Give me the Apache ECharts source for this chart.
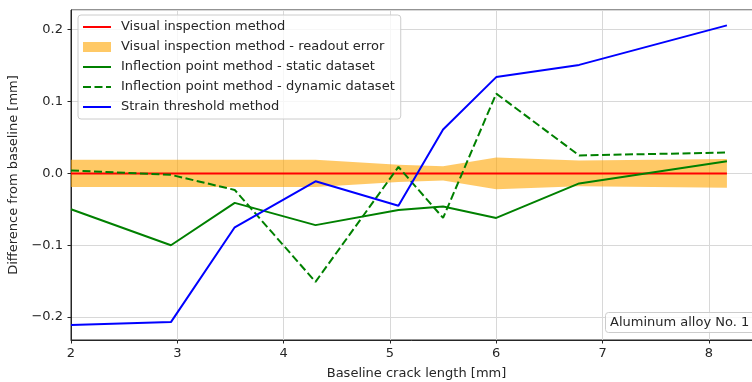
<!DOCTYPE html>
<html>
<head>
<meta charset="utf-8">
<script src="https://cdn.jsdelivr.net/npm/echarts@6/dist/echarts.min.js"></script>
<style>
html,body{margin:0;padding:0;background:#fff}
#chart{width:752px;height:382px}
</style>
</head>
<body>
<div id="chart"></div>
<script>
// baseline crack length [mm]
var crackLength = [2.00, 2.94, 3.54, 4.30, 5.08, 5.50, 6.00, 6.78, 8.17];
// differences from baseline [mm]
var visualDiff = [0, 0, 0, 0, 0, 0, 0, 0, 0];
var readoutError = [0.019, 0.019, 0.019, 0.019, 0.012, 0.010, 0.022, 0.018, 0.020];
var staticDiff = [-0.050, -0.100, -0.041, -0.072, -0.051, -0.046, -0.062, -0.014, 0.017];
var dynamicDiff = [0.004, -0.002, -0.023, -0.151, 0.009, -0.062, 0.111, 0.025, 0.029];
var strainDiff = [-0.211, -0.207, -0.075, -0.011, -0.045, 0.061, 0.134, 0.151, 0.206];

var names = ['Visual inspection method', 'Visual inspection method - readout error',
    'Inflection point method - static dataset', 'Inflection point method - dynamic dataset',
    'Strain threshold method'];

function pairs(ys){
    return crackLength.map(function(x, i){ return [x, ys[i]]; });
}
// band rows: x, lower, upper
var bandData = crackLength.map(function(x, i){
    return [x, visualDiff[i] - readoutError[i], visualDiff[i] + readoutError[i]];
});

var font = 'DejaVu Sans';
var dark = '#262626';
var bandColor = 'rgba(255,165,0,0.6)';

function renderBand(params, api){
    if (params.dataIndex !== 0) return;
    var top = [], bottom = [];
    for (var i = 0; i < bandData.length; i++) {
        top.push(api.coord([bandData[i][0], bandData[i][2]]));
        bottom.unshift(api.coord([bandData[i][0], bandData[i][1]]));
    }
    return {
        type: 'polygon',
        shape: {points: top.concat(bottom)},
        style: {fill: bandColor, stroke: 'none'}
    };
}

var myChart = echarts.init(document.getElementById('chart'));
option = {
    animation: false,
    grid: {
        left: 71, top: 10, width: 691, height: 330,
        outerBoundsMode: 'none', containLabel: false,
        show: true, borderColor: dark, borderWidth: 1, backgroundColor: 'transparent'
    },
    legend: {
        left: 78, top: 15,
        orient: 'vertical',
        padding: [5, 6, 5, 4],
        itemWidth: 28, itemHeight: 10, itemGap: 6,
        backgroundColor: 'rgba(255,255,255,0.8)',
        borderColor: '#cccccc', borderWidth: 1, borderRadius: 3,
        itemStyle: {opacity: 0},
        textStyle: {fontFamily: font, fontSize: 13, color: dark, lineHeight: 14, padding: [0, 0, 0, 5]},
        data: [
            names[0],
            {name: names[1], icon: 'rect', itemStyle: {color: bandColor, opacity: 1}},
            names[2], names[3], names[4]
        ]
    },
    title: {
        text: 'Aluminum alloy No. 1',
        left: 605, top: 312,
        padding: [4, 8, 4, 5],
        backgroundColor: 'rgba(255,255,255,0.8)',
        borderColor: '#cccccc', borderWidth: 1, borderRadius: 3,
        textStyle: {fontFamily: font, fontSize: 13, fontWeight: 'normal', color: dark}
    },
    xAxis: {
        type: 'value', min: 2, max: 8.5, interval: 1,
        name: 'Baseline crack length [mm]', nameLocation: 'middle', nameGap: 27,
        nameTextStyle: {fontFamily: font, fontSize: 13, color: dark},
        axisLine: {onZero: false, lineStyle: {color: dark, width: 1}},
        axisTick: {show: true, length: 3.5, lineStyle: {color: dark}},
        axisLabel: {fontFamily: font, fontSize: 13, color: dark, margin: 7, showMaxLabel: false},
        splitLine: {show: true, lineStyle: {color: '#d8d8d8', width: 1}}
    },
    yAxis: {
        type: 'value', min: -0.2319, max: 0.2274, splitNumber: 5,
        name: 'Difference from baseline [mm]', nameLocation: 'middle', nameGap: 41,
        nameTextStyle: {fontFamily: font, fontSize: 13, color: dark},
        axisLine: {show: true, onZero: false, lineStyle: {color: dark, width: 1}},
        axisTick: {show: true, length: 3.5, lineStyle: {color: dark}},
        axisLabel: {
            fontFamily: font, fontSize: 13, color: dark, margin: 8,
            showMinLabel: false, showMaxLabel: false,
            formatter: function(v){
                var r = Math.round(v * 10) / 10;
                return (r < 0 ? '\u2212' : '') + Math.abs(r).toFixed(1);
            }
        },
        splitLine: {show: true, lineStyle: {color: '#d8d8d8', width: 1}}
    },
    series: [
        {
            name: names[1], type: 'custom', renderItem: renderBand,
            data: bandData, encode: {x: 0, y: [1, 2]},
            itemStyle: {color: bandColor}, clip: true, z: 1
        },
        {
            name: names[0], type: 'line', data: pairs(visualDiff), symbol: 'none',
            lineStyle: {color: '#ff0000', width: 2}, itemStyle: {color: '#ff0000'}, z: 2
        },
        {
            name: names[2], type: 'line', data: pairs(staticDiff), symbol: 'none',
            lineStyle: {color: '#008000', width: 2}, itemStyle: {color: '#008000'}, z: 3
        },
        {
            name: names[3], type: 'line', data: pairs(dynamicDiff), symbol: 'none',
            lineStyle: {color: '#008000', width: 2, type: [8, 3.5]}, itemStyle: {color: '#008000'}, z: 4
        },
        {
            name: names[4], type: 'line', data: pairs(strainDiff), symbol: 'none',
            lineStyle: {color: '#0000ff', width: 2}, itemStyle: {color: '#0000ff'}, z: 5
        }
    ]
};
myChart.setOption(option);
</script>
</body>
</html>
